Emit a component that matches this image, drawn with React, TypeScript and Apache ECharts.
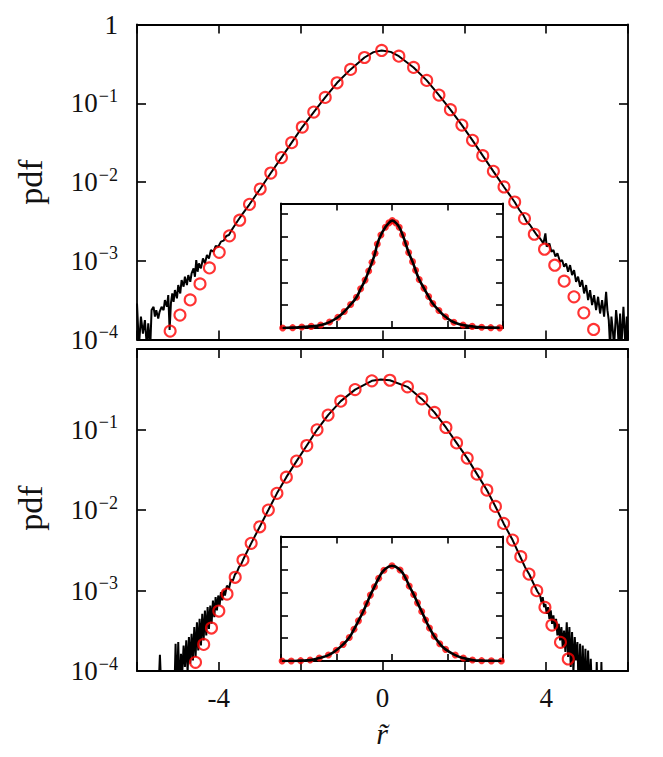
import React, { useEffect, useRef } from "react";
import * as echarts from "echarts";

// ---------- data ----------
const topCircleX = [-5.19, -4.95, -4.70, -4.46, -4.23, -3.99, -3.74, -3.49, -3.25, -2.99, -2.73, -2.47, -2.22, -1.96, -1.68, -1.40, -1.11, -0.78, -0.44, -0.02, 0.40, 0.76, 1.08, 1.38, 1.66, 1.94, 2.20, 2.45, 2.71, 2.97, 3.23, 3.47, 3.71, 3.96, 4.21, 4.44, 4.68, 4.92, 5.16];
const topCircleY = [1.28e-4, 2.04e-4, 3.18e-4, 5.08e-4, 8.11e-4, 1.28e-3, 2.07e-3, 3.27e-3, 5.21e-3, 8.15e-3, 0.0130, 0.0204, 0.0316, 0.0499, 0.0773, 0.1186, 0.182, 0.269, 0.381, 0.468, 0.396, 0.285, 0.195, 0.127, 0.0828, 0.0528, 0.0338, 0.0216, 0.01365, 8.65e-3, 5.57e-3, 3.43e-3, 2.17e-3, 1.40e-3, 8.77e-4, 5.50e-4, 3.48e-4, 2.18e-4, 1.34e-4];

const topLineLeft = [
  [-6.0, 2.87e-4], [-5.953, 8e-5], [-5.904, 1.95e-4], [-5.855, 1.19e-4], [-5.807, 1.76e-4], [-5.758, 8e-5], [-5.725, 1.6e-4], [-5.676, 8e-5],
  [-5.644, 2.36e-4], [-5.595, 2.6e-4], [-5.562, 1.95e-4], [-5.529, 2.36e-4], [-5.481, 1.85e-4], [-5.448, 2.25e-4], [-5.399, 2.6e-4], [-5.35, 2.36e-4],
  [-5.318, 3.16e-4], [-5.269, 2.6e-4], [-5.236, 3.66e-4], [-5.203, 1.32e-4], [-5.171, 2.87e-4], [-5.138, 3.85e-4], [-5.106, 3.01e-4], [-5.073, 4.24e-4],
  [-5.024, 3.33e-4], [-4.992, 4.91e-4], [-4.943, 3.85e-4], [-4.91, 5.69e-4], [-4.861, 4.68e-4], [-4.829, 6.27e-4], [-4.78, 4.91e-4], [-4.747, 6.58e-4],
  [-4.698, 5.41e-4], [-4.666, 6.9e-4], [-4.617, 8.0e-4], [-4.584, 6.27e-4], [-4.552, 1.02e-3], [-4.519, 7.25e-4], [-4.486, 9.25e-4], [-4.437, 8.0e-4],
  [-4.388, 1.07e-3], [-4.34, 9.25e-4], [-4.291, 1.18e-3], [-4.242, 1.07e-3], [-4.193, 1.37e-3], [-4.128, 1.3e-3], [-4.079, 1.54e-3], [-4.014, 1.51e-3],
  [-3.948, 1.75e-3], [-3.883, 1.8e-3], [-3.818, 2.06e-3], [-3.753, 2.12e-3], [-3.688, 2.45e-3], [-3.606, 2.84e-3], [-3.525, 3.29e-3], [-3.443, 3.8e-3],
  [-3.362, 4.32e-3],
];
const topLineCenter = [
  [-3.25, 5.21e-3], [-2.99, 8.15e-3], [-2.73, 0.013], [-2.47, 0.0204], [-2.22, 0.0316], [-1.96, 0.0499], [-1.68, 0.0773], [-1.40, 0.1186],
  [-1.11, 0.182], [-0.78, 0.269], [-0.44, 0.381], [-0.22, 0.446], [-0.02, 0.468], [0.2, 0.449], [0.40, 0.396], [0.76, 0.285], [1.08, 0.195],
  [1.38, 0.127], [1.66, 0.0828], [1.94, 0.0528], [2.20, 0.0338], [2.45, 0.0216], [2.71, 0.01365], [2.97, 8.65e-3], [3.23, 5.57e-3],
];
const topLineRight = [
  [3.346, 4.41e-3], [3.443, 3.8e-3], [3.525, 3.13e-3], [3.606, 2.84e-3], [3.688, 2.45e-3], [3.77, 2.12e-3], [3.851, 1.92e-3], [3.933, 1.66e-3],
  [3.981, 2.23e-3], [4.014, 1.51e-3], [4.079, 1.66e-3], [4.128, 1.3e-3], [4.177, 1.37e-3], [4.226, 1.13e-3], [4.275, 1.24e-3], [4.34, 9.72e-4],
  [4.389, 1.02e-3], [4.438, 8.4e-4], [4.487, 9.25e-4], [4.536, 7.25e-4], [4.584, 8.81e-4], [4.633, 6.58e-4], [4.682, 7.62e-4], [4.731, 5.41e-4],
  [4.78, 6.27e-4], [4.829, 4.68e-4], [4.878, 5.69e-4], [4.927, 3.85e-4], [4.976, 4.91e-4], [5.025, 3.16e-4], [5.073, 4.24e-4], [5.122, 2.74e-4],
  [5.171, 3.66e-4], [5.22, 2.36e-4], [5.269, 3.49e-4], [5.318, 2.14e-4], [5.367, 3.16e-4], [5.416, 1.95e-4], [5.465, 4.04e-4], [5.497, 2.36e-4],
  [5.53, 1.76e-4], [5.562, 8e-5], [5.595, 1.95e-4], [5.628, 1.32e-4], [5.66, 8e-5], [5.709, 2.36e-4], [5.742, 1.6e-4], [5.774, 8e-5],
  [5.807, 2.14e-4], [5.84, 8e-5], [5.888, 2.6e-4], [5.937, 8e-5], [5.97, 1.95e-4], [6.0, 8e-5],
];

const botCircleX = [-4.57, -4.37, -4.18, -4.00, -3.80, -3.60, -3.41, -3.21, -3.00, -2.79, -2.58, -2.35, -2.10, -1.85, -1.60, -1.33, -1.02, -0.67, -0.26, 0.18, 0.61, 0.96, 1.27, 1.55, 1.81, 2.07, 2.31, 2.55, 2.76, 2.96, 3.18, 3.38, 3.58, 3.77, 3.97, 4.14, 4.35, 4.54];
const botCircleY = [1.28e-4, 2.14e-4, 3.42e-4, 5.56e-4, 9.04e-4, 1.46e-3, 2.39e-3, 3.85e-3, 6.19e-3, 9.98e-3, 0.0161, 0.0256, 0.0405, 0.0632, 0.0991, 0.151, 0.225, 0.313, 0.402, 0.409, 0.339, 0.240, 0.163, 0.106, 0.0682, 0.0441, 0.0279, 0.0177, 0.01107, 6.81e-3, 4.23e-3, 2.63e-3, 1.60e-3, 9.95e-4, 6.18e-4, 3.72e-4, 2.27e-4, 1.41e-4];

const botLineLeft = [
  [-6.0, 5e-5], [-5.48, 5e-5], [-5.44, 1.59e-4], [-5.40, 5e-5], [-5.089, 5e-5], [-5.057, 2.18e-4], [-5.024, 5e-5], [-4.992, 2.29e-4],
  [-4.959, 5e-5], [-4.926, 1.64e-4], [-4.894, 9.7e-5], [-4.861, 2.07e-4], [-4.829, 1.12e-4], [-4.796, 2.4e-4], [-4.763, 9.7e-5], [-4.731, 2.64e-4],
  [-4.698, 1.23e-4], [-4.666, 2.9e-4], [-4.633, 1.35e-4], [-4.6, 3.51e-4], [-4.568, 1.49e-4], [-4.535, 4.04e-4], [-4.503, 1.8e-4], [-4.47, 4.45e-4],
  [-4.437, 2.07e-4], [-4.405, 5.13e-4], [-4.372, 2.4e-4], [-4.34, 5.65e-4], [-4.307, 2.76e-4], [-4.274, 6.21e-4], [-4.242, 3.34e-4], [-4.209, 6.52e-4],
  [-4.177, 3.86e-4], [-4.144, 7.52e-4], [-4.111, 4.67e-4], [-4.079, 8.26e-4], [-4.046, 5.65e-4], [-4.014, 8.67e-4], [-3.981, 6.52e-4], [-3.948, 9.53e-4],
  [-3.916, 7.52e-4], [-3.883, 1.02e-3], [-3.851, 8.67e-4], [-3.802, 1.15e-3], [-3.753, 1.05e-3], [-3.704, 1.36e-3], [-3.655, 1.33e-3], [-3.606, 1.58e-3],
  [-3.557, 1.69e-3], [-3.508, 1.95e-3], [-3.459, 2.1e-3], [-3.41, 2.39e-3],
];
const botLineCenter = [
  [-3.21, 3.85e-3], [-3.00, 6.19e-3], [-2.79, 9.98e-3], [-2.58, 0.0161], [-2.35, 0.0256], [-2.10, 0.0405], [-1.85, 0.0632], [-1.60, 0.0991],
  [-1.33, 0.151], [-1.02, 0.225], [-0.67, 0.313], [-0.26, 0.402], [-0.04, 0.418], [0.18, 0.409], [0.61, 0.339], [0.96, 0.240], [1.27, 0.163],
  [1.55, 0.106], [1.81, 0.0682], [2.07, 0.0441], [2.31, 0.0279], [2.55, 0.0177], [2.76, 0.01107], [2.96, 6.81e-3], [3.18, 4.23e-3],
];
const botLineRight = [
  [3.386, 2.5e-3], [3.484, 1.95e-3], [3.59, 1.58e-3], [3.688, 1.23e-3], [3.786, 9.71e-4], [3.851, 8.67e-4], [3.884, 7.16e-4], [3.916, 8.26e-4],
  [3.949, 6.21e-4], [3.981, 6.83e-4], [4.014, 5.13e-4], [4.047, 6.21e-4], [4.079, 4.45e-4], [4.112, 5.65e-4], [4.144, 3.86e-4], [4.177, 4.9e-4],
  [4.21, 3.34e-4], [4.242, 4.45e-4], [4.275, 2.76e-4], [4.307, 3.86e-4], [4.34, 2.4e-4], [4.373, 3.51e-4], [4.405, 1.98e-4], [4.438, 3.18e-4],
  [4.47, 1.72e-4], [4.503, 4.04e-4], [4.536, 1.49e-4], [4.568, 3.51e-4], [4.601, 1.12e-4], [4.633, 3.04e-4], [4.666, 9.7e-5], [4.699, 2.64e-4],
  [4.731, 1.35e-4], [4.764, 2.29e-4], [4.796, 5e-5], [4.829, 2.18e-4], [4.862, 5e-5], [4.894, 2.07e-4], [4.927, 5e-5], [4.959, 1.89e-4],
  [4.992, 5e-5], [5.025, 1.8e-4], [5.057, 5e-5], [5.09, 1.42e-4], [5.122, 5e-5], [5.22, 5e-5], [5.236, 1.29e-4], [5.253, 5e-5],
  [5.334, 5e-5], [5.35, 1.29e-4], [5.367, 5e-5], [6.0, 5e-5],
];

const topInsetX = [-3.94, -3.58, -3.25, -2.91, -2.57, -2.25, -1.95, -1.72, -1.49, -1.28, -1.13, -0.97, -0.84, -0.72, -0.61, -0.53, -0.40, -0.24, -0.11, 0.01, 0.14, 0.26, 0.38, 0.49, 0.60, 0.74, 0.85, 0.98, 1.15, 1.32, 1.47, 1.69, 1.93, 2.23, 2.56, 2.89, 3.23, 3.56, 3.88];
const topInsetY = [0, 0.0015, 0.004, 0.007, 0.013, 0.026, 0.047, 0.072, 0.103, 0.135, 0.172, 0.21, 0.25, 0.288, 0.328, 0.368, 0.408, 0.442, 0.461, 0.471, 0.461, 0.442, 0.409, 0.371, 0.331, 0.291, 0.253, 0.213, 0.175, 0.138, 0.107, 0.077, 0.049, 0.025, 0.013, 0.007, 0.003, 0.0015, 0.0006];

const botInsetX = [-3.96, -3.63, -3.29, -2.95, -2.62, -2.29, -2.01, -1.76, -1.54, -1.37, -1.21, -1.05, -0.91, -0.78, -0.63, -0.48, -0.29, 0.0, 0.29, 0.48, 0.62, 0.78, 0.92, 1.07, 1.21, 1.35, 1.52, 1.72, 1.93, 2.28, 2.57, 2.90, 3.23, 3.58, 3.94];
const botInsetY = [0, 0, 0.0015, 0.004, 0.013, 0.026, 0.047, 0.073, 0.103, 0.139, 0.176, 0.214, 0.252, 0.289, 0.326, 0.363, 0.398, 0.418, 0.399, 0.366, 0.329, 0.292, 0.255, 0.217, 0.18, 0.145, 0.109, 0.076, 0.051, 0.026, 0.013, 0.0045, 0.0015, 0.0005, 0.0002];

const xTickLabels = ["-4", "0", "4"];

// ---------- helpers ----------
const SERIF = "Liberation Serif";
const zip = (xs: number[], ys: number[]) => xs.map((x, i) => [x, ys[i]]);

export default function App() {
  const ref = useRef<HTMLDivElement>(null);

  useEffect(() => {
    if (!ref.current) return;
    const chart = echarts.init(ref.current, null, { renderer: "svg" });

    const MAIN_L = 137, MAIN_W = 491;
    const grids = [
      { left: MAIN_L, top: 24.5, width: MAIN_W, height: 315 },
      { left: MAIN_L, top: 349, width: MAIN_W, height: 322 },
      { left: 281, top: 203.5, width: 222, height: 124.5, show: true, backgroundColor: "#fff", borderWidth: 0 },
      { left: 281, top: 536.5, width: 222, height: 124.5, show: true, backgroundColor: "#fff", borderWidth: 0 },
    ];

    const line = { show: true, onZero: false, lineStyle: { color: "#000", width: 1.8 } };
    const mainTick = { show: true, inside: true, length: 9, lineStyle: { color: "#000", width: 1.6 } };
    const insetTick = { show: true, inside: true, length: 7, lineStyle: { color: "#000", width: 1.6 } };

    const logLabel = (hideOne: boolean) => (v: number) => {
      if (Math.abs(v - 1) < 1e-9) return hideOne ? "" : "{b|1}";
      const n = Math.round(-Math.log10(v));
      return `{b|10}{s|\u2212${n}}`;
    };
    const rich = {
      b: { fontSize: 27, fontFamily: SERIF, color: "#111" },
      s: { fontSize: 18, fontFamily: SERIF, color: "#111", padding: [0, 0, 15, 1] },
    };

    const mainX = (gridIndex: number, position: string, labels: boolean) => ({
      type: "value", gridIndex, position, min: -6, max: 6, interval: 2,
      axisLine: line, axisTick: mainTick, splitLine: { show: false },
      axisLabel: labels
        ? {
            show: true, margin: 13, fontSize: 27, fontFamily: SERIF, color: "#111",
            formatter: (v: number) => (xTickLabels.includes(String(v)) ? String(v) : ""),
          }
        : { show: false },
    });
    const mainY = (gridIndex: number, position: string, labels: boolean, hideOne: boolean) => ({
      type: "log", logBase: 10, gridIndex, position, min: 1e-4, max: 1,
      axisLine: line, axisTick: mainTick, splitLine: { show: false }, minorTick: { show: false },
      axisLabel: labels
        ? { show: true, margin: 19, fontSize: 27, fontFamily: SERIF, formatter: logLabel(hideOne), rich }
        : { show: false },
    });
    const insetX = (gridIndex: number, position: string) => ({
      type: "value", gridIndex, position, min: -4, max: 4, interval: 2,
      axisLine: line, axisTick: insetTick, splitLine: { show: false }, axisLabel: { show: false },
    });
    const insetY = (gridIndex: number, position: string) => ({
      type: "value", gridIndex, position, min: 0, max: 0.546, interval: 0.1,
      axisLine: line, axisTick: insetTick, splitLine: { show: false }, axisLabel: { show: false },
    });

    const xAxis = [
      mainX(0, "bottom", false), mainX(0, "top", false),
      mainX(1, "bottom", true), mainX(1, "top", false),
      insetX(2, "bottom"), insetX(2, "top"),
      insetX(3, "bottom"), insetX(3, "top"),
    ];
    const yAxis = [
      mainY(0, "left", true, false), mainY(0, "right", false, false),
      mainY(1, "left", true, true), mainY(1, "right", false, false),
      insetY(2, "left"), insetY(2, "right"),
      insetY(3, "left"), insetY(3, "right"),
    ];

    const blackLine = (xi: number, yi: number, data: number[][], width: number, smooth = false) => ({
      type: "line", xAxisIndex: xi, yAxisIndex: yi, data, showSymbol: false, symbol: "none",
      smooth, clip: true, lineStyle: { color: "#000", width }, z: 3, silent: true,
    });
    const circles = (xi: number, yi: number, data: number[][]) => ({
      type: "scatter", xAxisIndex: xi, yAxisIndex: yi, data, symbol: "circle", symbolSize: 11,
      itemStyle: { color: "rgba(0,0,0,0)", borderColor: "#ff0000", borderWidth: 2.1 }, z: 4, silent: true,
    });
    const dots = (xi: number, yi: number, data: number[][]) => ({
      type: "scatter", xAxisIndex: xi, yAxisIndex: yi, data, symbol: "circle", symbolSize: 7,
      itemStyle: { color: "#ff0000" }, z: 5, silent: true,
    });

    const series = [
      blackLine(0, 0, [...topLineLeft, ...topLineCenter, ...topLineRight], 2),
      circles(0, 0, zip(topCircleX, topCircleY)),
      blackLine(2, 2, [...botLineLeft, ...botLineCenter, ...botLineRight], 2),
      circles(2, 2, zip(botCircleX, botCircleY)),
      dots(4, 4, zip(topInsetX, topInsetY)),
      { ...blackLine(4, 4, zip(topInsetX, topInsetY), 2.6, true), z: 6 },
      dots(6, 6, zip(botInsetX, botInsetY)),
      { ...blackLine(6, 6, zip(botInsetX, botInsetY), 2.6, true), z: 6 },
    ];

    const pdfStyle = { text: "pdf", fontSize: 34, fontFamily: SERIF, fill: "#111", align: "center", verticalAlign: "middle" };

    chart.setOption({
      animation: false,
      backgroundColor: "#fff",
      grid: grids,
      xAxis,
      yAxis,
      series,
      graphic: [
        { type: "text", x: 30, y: 182, rotation: Math.PI / 2, style: pdfStyle },
        { type: "text", x: 30, y: 508, rotation: Math.PI / 2, style: pdfStyle },
        { type: "text", x: 382, y: 733, style: { text: "r\u0303", fontSize: 30, fontStyle: "italic", fontFamily: SERIF, fill: "#111", align: "center", verticalAlign: "middle" } },
      ],
    });

    return () => chart.dispose();
  }, []);

  return <div ref={ref} style={{ position: "absolute", left: 0, top: 0, width: 663, height: 757 }} />;
}
